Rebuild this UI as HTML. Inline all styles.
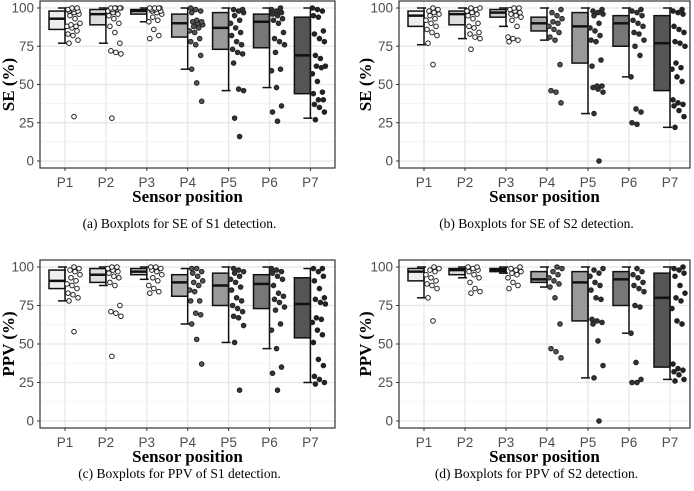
<!DOCTYPE html>
<html><head><meta charset="utf-8">
<style>
body{margin:0;background:#fff;width:694px;height:491px;overflow:hidden;}
svg{position:absolute;left:0;top:0;}
.tk{font-family:"Liberation Sans",sans-serif;font-size:13.5px;fill:#4d4d4d;}
.tt{font-family:"Liberation Serif",serif;font-size:17px;font-weight:bold;fill:#000;}
.cap{font-family:"Liberation Serif",serif;font-size:13.5px;fill:#000;}
</style></head>
<body>
<svg id="chart" width="694" height="491"></svg>
<script>
const categories = ["P1","P2","P3","P4","P5","P6","P7"];
const yTicks = [0,25,50,75,100];
const fills = ["#eeeeee","#dddddd","#cccccc","#aaaaaa","#999999","#777777","#555555"];
const ptFills = ["#ffffff","#ffffff","#ffffff","#555555","#333333","#333333","#222222"];
// stats: [whiskerLow, q1, median, q3, whiskerHigh]
const seS1Stats = [[77,86,93,98,100],[77,89,96,99,100],[91,96,98,99,100],[60,81,90,96,100],[46,73,87,97,100],[48,74,91,96,100],[28,44,69,94,100]];
const seS1Points = [
 [29,77,79,82,83,85,87,88,88,89,90,93,95,96,97,98,98,99,99,100,100],
 [28,70,71,72,77,84,88,90,93,95,96,97,98,99,99,100,100,100,100,100],
 [80,82,86,91,92,94,96,97,98,98,99,99,100,100,100,100],
 [39,51,60,69,76,78,80,84,85,87,88,89,90,91,91,92,97,98,99,100],
 [16,28,46,47,64,70,71,73,76,78,82,84,87,90,92,95,97,98,99,99],
 [26,32,36,48,59,60,71,76,78,80,84,90,92,93,95,96,97,98,99,100],
 [27,32,35,37,40,40,44,45,52,57,61,62,62,67,69,78,80,83,85,94,95,98,99,100]];
const seS2Stats = [[76,88,95,98,100],[80,89,96,98,100],[88,94,97,99,100],[79,85,90,94,100],[31,64,88,97,100],[55,75,90,95,100],[22,46,77,95,100]];
const seS2Points = [
 [63,77,82,84,86,88,90,92,93,95,96,97,98,99,100],
 [73,80,81,83,84,87,88,90,93,95,96,97,98,99,100,100],
 [78,79,80,81,88,92,94,95,96,97,98,99,100,100],
 [38,45,46,63,79,81,84,86,88,90,91,93,95,97,99],
 [0,31,45,47,48,49,49,62,66,78,79,82,85,87,90,95,96,97,98,99],
 [24,25,32,34,55,69,75,79,83,84,88,90,92,95,97,98,99],
 [22,29,33,36,37,38,40,52,55,60,61,64,75,77,78,84,86,88,96,97,98,99]];
const ppvS1Stats = [[78,86,91,98,100],[88,90,95,99,100],[92,95,97,99,100],[63,81,90,95,99],[51,75,88,96,100],[47,73,89,95,100],[25,54,76,93,99]];
const ppvS1Points = [
 [58,78,80,82,83,86,88,89,91,93,95,97,98,99,100],
 [42,68,70,71,75,88,90,93,94,96,97,98,99,100,100],
 [83,84,86,88,91,93,95,97,98,99,100,100],
 [37,53,63,69,70,78,78,84,85,88,90,91,94,96,97,99,99],
 [20,51,62,67,68,71,73,75,78,80,85,87,90,92,94,96,97,98,99],
 [20,31,35,47,59,63,72,74,77,79,81,83,88,92,94,96,97,98,99],
 [24,25,27,29,36,40,51,56,59,64,66,67,76,77,79,80,86,91,94,97,99,99]];
const ppvS2Stats = [[80,91,97,99,100],[93,95,98,99,100],[96,97,98,99,100],[87,90,92,97,100],[28,65,90,97,100],[57,75,92,97,100],[27,35,80,96,100]];
const ppvS2Points = [
 [65,80,86,88,89,91,93,95,97,98,99,100],
 [83,84,86,90,93,95,97,98,99,100,100],
 [86,88,90,93,95,96,97,98,99,100],
 [41,45,47,63,80,87,89,91,93,95,97,99,100],
 [0,28,36,52,63,64,65,66,79,80,85,88,90,94,96,98,99],
 [25,25,27,38,57,74,75,84,86,88,90,93,95,97,99],
 [26,27,30,32,33,34,37,63,65,73,78,80,83,88,94,96,98,99,100]];

const NS="http://www.w3.org/2000/svg";
const root=document.getElementById('chart');
function mk(tag,attrs,parent){const e=document.createElementNS(NS,tag);for(const k in attrs)e.setAttribute(k,attrs[k]);(parent||root).appendChild(e);return e;}

function panel(id,g,stats,points,ytitle,caption){
  const grp=mk('g',{});
  
  
  const y=v=>g.y0+(g.y100-g.y0)*v/100;
  const x=i=>g.c0+g.step*i;
  mk('rect',{x:g.l,y:g.t,width:g.r-g.l,height:g.b-g.t,fill:'#fff'},grp);
  for(let v=12.5;v<100;v+=25){mk('line',{x1:g.l,x2:g.r,y1:y(v),y2:y(v),stroke:'#f2f2f2','stroke-width':0.7},grp);}
  yTicks.forEach(v=>{mk('line',{x1:g.l,x2:g.r,y1:y(v),y2:y(v),stroke:'#e6e6e6','stroke-width':1.2},grp);
    const t=mk('text',{x:g.l-6,y:y(v)+4.5,'text-anchor':'end',class:'tk'},grp);t.textContent=v;
    
    
    mk('line',{x1:g.l-3,x2:g.l,y1:y(v),y2:y(v),stroke:'#333'},grp);});
  categories.forEach((c,i)=>{mk('line',{x1:x(i),x2:x(i),y1:g.t,y2:g.b,stroke:'#e6e6e6','stroke-width':1.2},grp);
    mk('line',{x1:x(i),x2:x(i),y1:g.b,y2:g.b+3,stroke:'#333'},grp);
    const t=mk('text',{x:x(i),y:g.b+19,'text-anchor':'middle',class:'tk'},grp);t.textContent=c;
    
    });
  stats.forEach((s,i)=>{const cx=x(i);
    const bx=mk('rect',{x:cx-16,y:y(s[3]),width:16,height:Math.max(y(s[1])-y(s[3]),1),fill:fills[i],stroke:'#111','stroke-width':1.5},grp);
    
    
    mk('line',{x1:cx-16,x2:cx,y1:y(s[2]),y2:y(s[2]),stroke:'#111','stroke-width':2.5},grp);
    mk('line',{x1:cx,x2:cx,y1:y(s[0]),y2:y(s[4]),stroke:'#111','stroke-width':1.5},grp);
    mk('line',{x1:cx-7,x2:cx+2,y1:y(s[0]),y2:y(s[0]),stroke:'#111','stroke-width':1.5},grp);
    mk('line',{x1:cx-7,x2:cx+2,y1:y(s[4]),y2:y(s[4]),stroke:'#111','stroke-width':1.5},grp);
  });
  points.forEach((arr,i)=>{arr.forEach((v,j)=>{
    const off=2+((j*37+i*11+7)%14);
    const p=mk('circle',{cx:x(i)+off,cy:y(v),r:2.3,fill:ptFills[i],stroke:'#222','stroke-width':1},grp);
    
    });});
  mk('rect',{x:g.l,y:g.t,width:g.r-g.l,height:g.b-g.t,fill:'none',stroke:'#333','stroke-width':1.2},grp);
  const yt=mk('text',{transform:`translate(${g.yt},${(g.t+g.b)/2}) rotate(-90)`,'text-anchor':'middle',class:'tt'},grp);yt.textContent=ytitle;
  
  
  const xt=mk('text',{x:(g.l+g.r)/2,y:g.b+34,'text-anchor':'middle',class:'tt'},grp);xt.textContent='Sensor position';
  
  
  const cp=mk('text',{x:(g.l+g.r)/2-8,y:g.cap,'text-anchor':'middle',class:'cap'},grp);cp.textContent=caption;
  
  
}
panel('panel-a',{l:40,r:335,t:1,b:168,y0:161,y100:8,c0:65,step:40.9,yt:14,cap:228},seS1Stats,seS1Points,'SE (%)','(a)  Boxplots for SE of S1 detection.');
panel('panel-b',{l:399,r:690,t:1,b:168,y0:161,y100:8,c0:424,step:41,yt:371,cap:228},seS2Stats,seS2Points,'SE (%)','(b)  Boxplots for SE of S2 detection.');
panel('panel-c',{l:40,r:335,t:260,b:428,y0:421,y100:267,c0:65,step:40.9,yt:14,cap:478},ppvS1Stats,ppvS1Points,'PPV (%)','(c)  Boxplots for PPV of S1 detection.');
panel('panel-d',{l:399,r:690,t:260,b:428,y0:421,y100:267,c0:424,step:41,yt:371,cap:478},ppvS2Stats,ppvS2Points,'PPV (%)','(d)  Boxplots for PPV of S2 detection.');
</script>
</body></html>
